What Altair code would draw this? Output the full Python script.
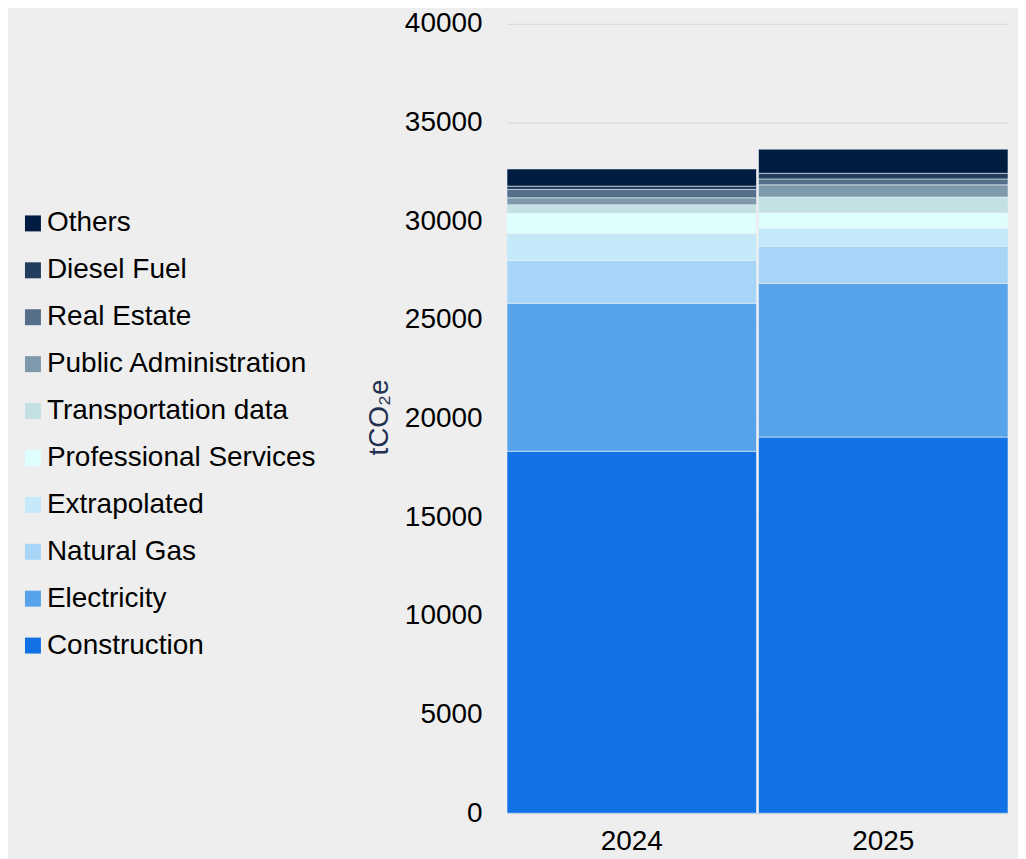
import altair as alt
import pandas as pd

years = ["2024", "2025"]
categories = ["Construction", "Electricity", "Natural Gas", "Extrapolated",
              "Professional Services", "Transportation data", "Public Administration",
              "Real Estate", "Diesel Fuel", "Others"]
colors = ["#1172E5", "#57A3EA", "#A6D5F7", "#C4E9F9", "#DFFFFF",
          "#C3E0E5", "#7F99AC", "#556F8A", "#233D5E", "#001C40"]
values_2024 = [18340, 7500, 2165, 1360, 1045, 420, 355, 420, 170, 870]
values_2025 = [19060, 7780, 1880, 905, 805, 790, 620, 300, 285, 1225]

rows = []
for i, c in enumerate(categories):
    rows.append({"year": years[0], "category": c, "value": values_2024[i], "order": i})
    rows.append({"year": years[1], "category": c, "value": values_2025[i], "order": i})
df = pd.DataFrame(rows)

FONT = "Liberation Sans"
FS = 28

chart = alt.Chart(df).mark_bar(stroke="#E6EEF5", strokeWidth=0.6).encode(
    x=alt.X("year:N", sort=years, title=None,
            scale=alt.Scale(paddingInner=0.008, paddingOuter=0.0),
            axis=alt.Axis(labelAngle=0, labelFontSize=FS, labelFont=FONT, labelColor="#000000",
                          labelPadding=14, domain=True, domainColor="#D9D9D9", ticks=False)),
    y=alt.Y("value:Q", stack="zero",
            scale=alt.Scale(domain=[0, 40000], nice=False),
            axis=alt.Axis(values=list(range(0, 40001, 5000)), format="d", title="tCO₂e",
                          titleFont=FONT, titleFontSize=FS, titleFontWeight="normal",
                          titleColor="#1F3050", titleAngle=-90, titleBaseline="middle",
                          titleX=-128, titleY=394, titleAlign="center",
                          labelFontSize=FS, labelFont=FONT, labelColor="#000000",
                          labelPadding=25, domain=False, ticks=False,
                          grid=True, gridColor="#D9D9D9", gridWidth=1)),
    color=alt.Color("category:N", sort=categories,
                    scale=alt.Scale(domain=categories, range=colors),
                    legend=alt.Legend(title=None, orient="none", legendX=-489, legendY=186,
                                      direction="vertical", symbolType="square",
                                      symbolSize=256, symbolStrokeWidth=0,
                                      labelFont=FONT, labelFontSize=FS, labelColor="#000000",
                                      labelLimit=400, rowPadding=19, labelOffset=0,
                                      values=categories[::-1])),
    order=alt.Order("order:Q", sort="ascending"),
).properties(
    width=502, height=791,
    autosize=alt.AutoSizeParams(type="none"),
    padding={"left": 500, "top": 15, "right": 10, "bottom": 45},
    background="#EEEEEE",
).configure_view(stroke=None)

chart.save("out.html", embed_options={"renderer": "svg", "actions": False})
